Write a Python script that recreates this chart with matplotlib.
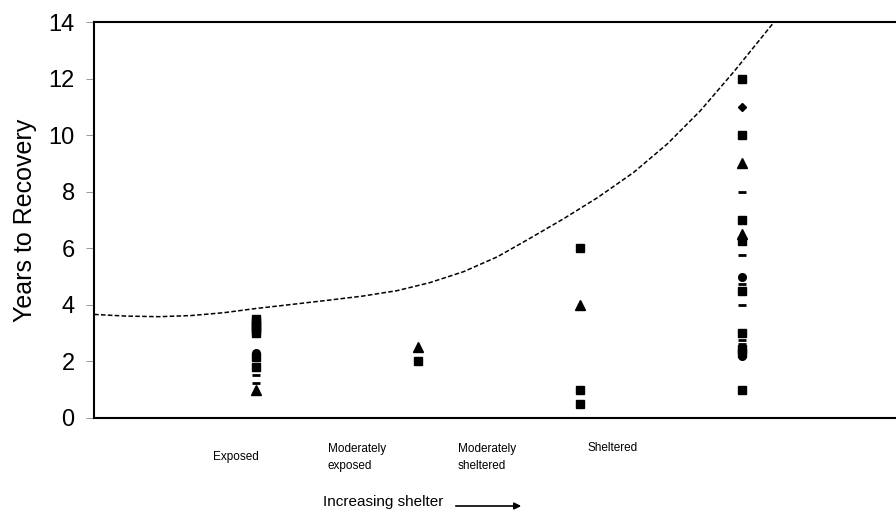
import matplotlib.pyplot as plt

plt.rcParams['font.family'] = ['Liberation Sans', 'DejaVu Sans']

# categories (x positions 1..4)
categories = ['Exposed', 'Moderately\nexposed', 'Moderately\nsheltered', 'Sheltered']

# years to recovery, grouped by category and symbol
squares = {
    1: [3.5, 3.4, 3.3, 3.2, 3.1, 3.0, 2.15, 1.8],
    2: [2.0],
    3: [6.0, 1.0, 0.5],
    4: [12.0, 10.0, 7.0, 6.25, 4.5, 3.0, 2.45, 2.3, 1.0],
}
triangles = {
    1: [1.0],
    2: [2.5],
    3: [4.0],
    4: [9.0, 6.5],
}
circles = {
    1: [2.3],
    4: [5.0, 2.2],
}
diamonds = {
    4: [11.0],
}
dashes = {
    1: [1.5, 1.25],
    4: [8.0, 5.75, 4.75, 4.0, 2.75, 2.6],
}

# trend line
curve_x = [0.0, 0.2, 0.4, 0.6, 0.8, 1.0, 1.2, 1.457, 1.66, 1.87, 2.07, 2.28,
           2.49, 2.69, 2.9, 3.11, 3.33, 3.54, 3.74, 3.95, 4.07, 4.19]
curve_y = [3.66, 3.6, 3.58, 3.62, 3.72, 3.87, 4.0, 4.17, 4.31, 4.50, 4.78, 5.17,
           5.70, 6.35, 7.05, 7.8, 8.68, 9.7, 10.85, 12.25, 13.1, 13.95]

fig = plt.figure(figsize=(8.96, 5.14), dpi=100)
ax = fig.add_axes([0.105, 0.187, 0.895, 0.770])

ax.plot(curve_x, curve_y, ls=(0, (3, 1.5)), color='black', lw=1.1, zorder=1)

def draw(group, **kw):
    for x, ys in group.items():
        ax.plot([x] * len(ys), ys, ls='none', color='black', zorder=3, **kw)

draw(squares, marker='s', ms=5.5)
draw(triangles, marker='^', ms=6.5)
draw(circles, marker='o', ms=5.5)
draw(diamonds, marker='D', ms=4.5)
draw(dashes, marker='_', ms=6, mew=2)

ax.set_xlim(0, 4.95)
ax.set_ylim(0, 14)
ax.set_yticks(range(0, 15, 2))
ax.set_xticks([])
ax.tick_params(axis='y', labelsize=17, length=6, width=0.6, color='#888888', pad=8)
ax.set_ylabel('Years to Recovery', fontsize=18, labelpad=8)

for s in ['left', 'top', 'bottom']:
    ax.spines[s].set_linewidth(1.5)
ax.spines['right'].set_visible(False)

label_x = [213, 328, 458, 587]
label_y = [457, 457.5, 457.5, 448]
for name, lx, ly in zip(categories, label_x, label_y):
    fig.text(lx / 896, 1 - ly / 514, name, fontsize=8.5,
             ha='left', va='center', linespacing=1.55)

fig.text(323 / 896, 1 - 502 / 514, 'Increasing shelter', fontsize=11,
         ha='left', va='center')
fig.add_artist(plt.matplotlib.patches.FancyArrowPatch(
    (453 / 896, 1 - 506 / 514), (524 / 896, 1 - 506 / 514),
    transform=fig.transFigure, arrowstyle='-|>', mutation_scale=10,
    color='black', lw=1.2))

fig.savefig('out.png', dpi=100)
